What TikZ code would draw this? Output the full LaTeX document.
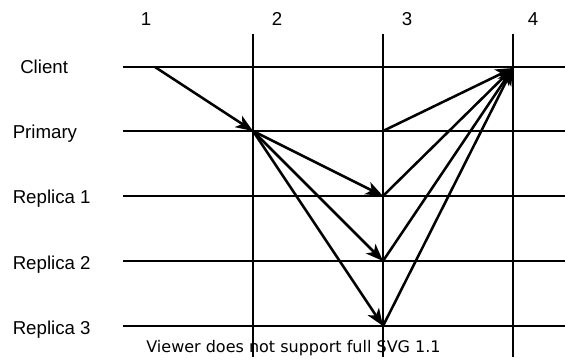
\documentclass[tikz,border=0pt]{standalone}
\usepackage{fontspec}
\setmainfont{Liberation Sans}
\newfontfamily\dejavu{DejaVu Sans}
\usetikzlibrary{arrows.meta}
\begin{document}
\begin{tikzpicture}[x=0.75pt,y=-0.75pt,
  grid/.style={line width=1pt},
  msg/.style={line width=1.9pt,-{Stealth[length=13pt,width=10pt,inset=3.5pt]}},
  lbl/.style={font=\fontsize{14}{16}\selectfont,inner sep=0pt,anchor=base west},
  colnum/.style={font=\fontsize{14}{16}\selectfont,inner sep=0pt,anchor=base}]
\useasboundingbox (0,0) rectangle (565,360);
% rows
\foreach \n/\y in {c/67,p/131,ra/196,rb/261,rc/326}{
  \coordinate (L\n) at (123,\y);
  \coordinate (R\n) at (565,\y);
  \draw[grid] (L\n) -- (R\n);
}
% columns
\foreach \n/\x in {2/253,3/383,4/513}{
  \coordinate (T\n) at (\x,34);
  \coordinate (B\n) at (\x,357);
  \draw[grid] (T\n) -- (B\n);
}
% column numbers
\node[colnum] (n1) at (146,26) {1};
\node[colnum] (n2) at (277,26) {2};
\node[colnum] (n3) at (407,26) {3};
\node[colnum] (n4) at (533,26) {4};
% row labels
\node[lbl] (client) at (20,74) {Client};
\node[lbl] (primary) at (12.5,139) {Primary};
\node[lbl] (rep1) at (12.5,204) {Replica 1};
\node[lbl] (rep2) at (12.5,269) {Replica 2};
\node[lbl] (rep3) at (12.5,334) {Replica 3};
% event points
\coordinate (c1) at (155,67);
\coordinate (p2) at (253,131);
\coordinate (p3) at (383,131);
\coordinate (r13) at (383,196);
\coordinate (r23) at (383,261);
\coordinate (r33) at (383,326);
\coordinate (c4) at (513,68);
% messages
\draw[msg] (c1) -- (p2);
\draw[msg] (p2) -- (r13);
\draw[msg] (p2) -- (r23);
\draw[msg] (p2) -- (r33);
\draw[msg] (p3) -- (c4);
\draw[msg] (r13) -- (c4);
\draw[msg] (r23) -- (c4);
\draw[msg] (r33) -- (c4);
\node[font=\dejavu\fontsize{12}{14}\selectfont,inner sep=0pt,anchor=base] (note) at (293.5,352) {Viewer does not support full SVG 1.1};
\end{tikzpicture}
\end{document}
